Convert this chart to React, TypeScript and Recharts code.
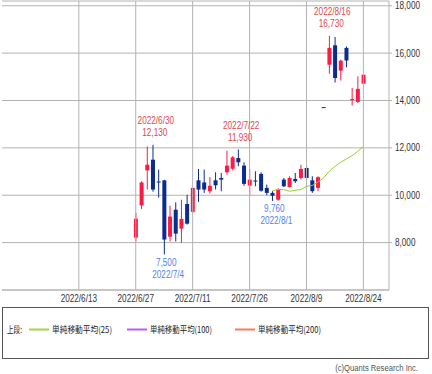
import React from 'react';
import {
  ComposedChart,
  Bar,
  Line,
  XAxis,
  YAxis,
  CartesianGrid,
  ReferenceLine,
  ReferenceDot,
} from 'recharts';

// ---- categories (trading days on the axis) ----
const dates = [
  '2022/5/25', '2022/5/26', '2022/5/27', '2022/5/30', '2022/5/31',
  '2022/6/1', '2022/6/2', '2022/6/3', '2022/6/6', '2022/6/7', '2022/6/8', '2022/6/9', '2022/6/10',
  '2022/6/13', '2022/6/14', '2022/6/15', '2022/6/16', '2022/6/17',
  '2022/6/20', '2022/6/21', '2022/6/22', '2022/6/23', '2022/6/24',
  '2022/6/27', '2022/6/28', '2022/6/29', '2022/6/30', '2022/7/1',
  '2022/7/4', '2022/7/5', '2022/7/6', '2022/7/7', '2022/7/8',
  '2022/7/11', '2022/7/12', '2022/7/13', '2022/7/14', '2022/7/15',
  '2022/7/19', '2022/7/20', '2022/7/21', '2022/7/22',
  '2022/7/25', '2022/7/26', '2022/7/27', '2022/7/28', '2022/7/29',
  '2022/8/1', '2022/8/2', '2022/8/3', '2022/8/4', '2022/8/5',
  '2022/8/8', '2022/8/9', '2022/8/10', '2022/8/12',
  '2022/8/15', '2022/8/16', '2022/8/17', '2022/8/18', '2022/8/19',
  '2022/8/22', '2022/8/23', '2022/8/24', '2022/8/25', '2022/8/26',
  '2022/8/29', '2022/8/30',
];

// ---- candles (2022/6/27 .. 2022/8/24) ----
const candleStart = '2022/6/27';
const opens = [8210, 9570, 11050, 11500, 10560, 10630, 8250, 9390, 8590, 9630, 9300, 10630, 10540, 10170, 10630, 10730, 10970, 11120, 11570, 11250, 10410, 10600, 10900, 10310, 10100, 9810, 10660, 10350, 10690, 10730, 11150, 10630, 10310, 13700, 15510, 16330, 15260, 16220, 14000, 13940, 14710];
const highs = [9270, 10590, 12060, 12130, 11080, 10650, 9560, 9700, 9810, 10020, 10310, 11110, 11080, 10770, 10970, 10940, 11880, 11650, 11930, 11390, 11110, 11010, 10970, 10450, 10170, 10290, 10730, 10800, 10940, 11290, 11250, 10800, 10800, 13700, 16730, 16680, 15720, 16280, 14530, 15020, 15090];
const lows = [8050, 9420, 10240, 10150, 9900, 7500, 8050, 8050, 7990, 8760, 9250, 9720, 10100, 10070, 10240, 10170, 10870, 11050, 11220, 10400, 9980, 10380, 10150, 10000, 9760, 9770, 10350, 10330, 10520, 10660, 10660, 10100, 10170, 13700, 15130, 14760, 14840, 15400, 13790, 13900, 14700];
const closes = [9010, 10540, 11290, 10240, 10530, 8130, 9100, 8380, 9000, 8800, 10310, 10240, 10240, 10400, 10420, 10660, 11250, 11600, 11390, 10480, 10660, 10570, 10190, 10100, 9980, 10240, 10380, 10730, 10590, 11110, 10730, 10170, 10760, 13700, 16220, 14950, 15680, 15690, 14040, 14490, 15090];

// ---- 25-day simple moving average (2022/8/1 .. 2022/8/24) ----
const smaStart = '2022/8/1';
const sma25 = [10190, 10240, 10240, 10170, 10210, 10240, 10380, 10410, 10550, 10730, 11010, 11220, 11390, 11530, 11670, 11850, 12060];

// ---- axis ticks ----
const xTickLabels = ['2022/6/13', '2022/6/27', '2022/7/11', '2022/7/26', '2022/8/9', '2022/8/24'];
const yTicks = [8000, 10000, 12000, 14000, 16000, 18000];
const yDomain = [6000, 18200];

// ---- annotated highs / lows ----
const highMarks = [
  { date: '2022/6/30', value: 12130 },
  { date: '2022/7/22', value: 11930 },
  { date: '2022/8/16', value: 16730 },
];
const lowMarks = [
  { date: '2022/7/4', value: 7500 },
  { date: '2022/8/1', value: 9760 },
];

// ---- legend ----
const legendItems = [
  { name: '単純移動平均(25)', color: '#a6d447' },
  { name: '単純移動平均(100)', color: '#bd5cf2' },
  { name: '単純移動平均(200)', color: '#f77c5c' },
];

const RED = '#ff1a46';
const BLUE = '#0b2c8e';
const GRID = '#b3b3b3';
const SANS = "'Liberation Sans', Arial, sans-serif";
const JP = "'Noto Sans CJK JP', 'Noto Sans', sans-serif";
const SQUEEZE = 0.82;

const fmt = (v: number) => String(v).replace(/\B(?=(\d{3})+(?!\d))/g, ',');

const cIdx = dates.indexOf(candleStart);
const sIdx = dates.indexOf(smaStart);

const data = dates.map((d, i) => {
  const k = i - cIdx;
  const s = i - sIdx;
  const has = k >= 0 && k < opens.length;
  return {
    date: d,
    open: has ? opens[k] : null,
    high: has ? highs[k] : null,
    low: has ? lows[k] : null,
    close: has ? closes[k] : null,
    range: has ? [lows[k], highs[k]] : null,
    sma25: s >= 0 && s < sma25.length ? sma25[s] : null,
    sma100: null,
    sma200: null,
  };
});

// condensed text (narrow face look-alike)
const NText = ({ x, y, anchor = 'middle', fill = '#333', size = 10, children }: any) => (
  <text
    transform={`translate(${x},${y}) scale(${SQUEEZE},1)`}
    x={0}
    y={0}
    textAnchor={anchor}
    fontSize={size}
    fontFamily={SANS}
    fill={fill}
  >
    {children}
  </text>
);

const Candle = (props: any) => {
  const { x, y, width, height, payload } = props;
  if (!payload || payload.open == null || x == null || y == null) return null;
  const { open, close, high, low } = payload;
  const h = height || 0;
  const top = Math.min(y, y + h);
  const bottom = Math.max(y, y + h);
  const span = high - low;
  const toY = (v: number) => (span === 0 ? top : bottom - ((v - low) / span) * (bottom - top));
  const up = close > open;
  const color = up ? RED : BLUE;
  const cx = x + width / 2;
  const bTop = toY(Math.max(open, close));
  const bBot = toY(Math.min(open, close));
  return (
    <g>
      {bottom - top > 0 && (
        <line x1={cx} x2={cx} y1={top} y2={bottom} stroke={color} strokeWidth={1} />
      )}
      <rect x={x} y={bTop - (bBot - bTop < 1 ? 0.5 : 0)} width={width} height={Math.max(bBot - bTop, 1)} fill={color} />
    </g>
  );
};

const XTick = (props: any) => {
  const { x, y, payload } = props;
  if (!xTickLabels.includes(payload.value)) return <g />;
  return <NText x={x} y={y + 11.5}>{payload.value}</NText>;
};

const YTick = (props: any) => {
  const { x, y, payload } = props;
  return (
    <NText x={x} y={y + 3.5} anchor="start">
      {fmt(payload.value)}
    </NText>
  );
};

const makeLabel = (date: string, value: number, kind: 'high' | 'low') => (p: any) => {
  const vb = p.viewBox || {};
  const cx = (vb.x ?? 0) + (vb.width ?? 0) / 2 + 3;
  const cy = (vb.y ?? 0) + (vb.height ?? 0) / 2;
  const color = kind === 'high' ? '#e0474c' : '#5284ea';
  if (kind === 'high') {
    return (
      <g>
        <NText x={cx} y={cy - 20.5} fill={color}>{date}</NText>
        <NText x={cx - 1} y={cy - 8.5} fill={color}>{fmt(value)}</NText>
      </g>
    );
  }
  return (
    <g>
      <NText x={cx - 1} y={cy + 11.5} fill={color}>{fmt(value)}</NText>
      <NText x={cx + 1} y={cy + 23.5} fill={color}>{date}</NText>
    </g>
  );
};

export default function App() {
  return (
    <div style={{ position: 'absolute', left: 0, top: 0, width: 432, height: 374, background: '#fff' }}>
      <ComposedChart
        width={432}
        height={374}
        data={data}
        margin={{ top: 1, right: 0, left: 2, bottom: 64 }}
      >
        <CartesianGrid vertical={false} stroke={GRID} strokeWidth={1} />
        <XAxis
          dataKey="date"
          interval={0}
          tick={<XTick />}
          tickLine={false}
          tickSize={0}
          tickMargin={0}
          height={20}
          axisLine={{ stroke: GRID }}
        />
        <XAxis
          xAxisId="top"
          dataKey="date"
          orientation="top"
          height={0}
          tick={false}
          tickLine={false}
          axisLine={{ stroke: GRID }}
        />
        <YAxis
          orientation="right"
          width={43}
          domain={yDomain}
          ticks={yTicks}
          interval={0}
          allowDataOverflow
          tickSize={3}
          tickMargin={3}
          tickLine={{ stroke: GRID }}
          axisLine={{ stroke: GRID }}
          tick={<YTick />}
        />
        <YAxis
          yAxisId="left"
          orientation="left"
          width={0}
          domain={yDomain}
          tick={false}
          tickLine={false}
          axisLine={{ stroke: GRID }}
        />
        {xTickLabels.map((d) => (
          <ReferenceLine key={d} x={d} stroke={GRID} strokeWidth={1} />
        ))}
        <Bar dataKey="range" barSize={4} shape={<Candle />} isAnimationActive={false} />
        <Line
          dataKey="sma25"
          stroke="#9acd32"
          strokeWidth={1}
          dot={false}
          activeDot={false}
          isAnimationActive={false}
        />
        <Line dataKey="sma100" stroke="#bd5cf2" dot={false} isAnimationActive={false} />
        <Line dataKey="sma200" stroke="#f77c5c" dot={false} isAnimationActive={false} />
        {highMarks.map((m) => (
          <ReferenceDot
            key={m.date}
            x={m.date}
            y={m.value}
            r={0}
            fill="none"
            stroke="none"
            label={{ content: makeLabel(m.date, m.value, 'high') }}
          />
        ))}
        {lowMarks.map((m) => (
          <ReferenceDot
            key={m.date}
            x={m.date}
            y={m.value}
            r={0}
            fill="none"
            stroke="none"
            label={{ content: makeLabel(m.date, m.value, 'low') }}
          />
        ))}
      </ComposedChart>
      <svg
        width={432}
        height={374}
        style={{ position: 'absolute', left: 0, top: 0, pointerEvents: 'none' }}
      >
        <rect x={2.5} y={307.5} width={426} height={51} fill="none" stroke="#555" strokeWidth={1} />
        <text x={7} y={332.5} fontSize={9} fontFamily={JP} fill="#222" textLength={15} lengthAdjust="spacingAndGlyphs">
          上段:
        </text>
        {legendItems.map((it, i) => {
          const lx = [29, 127, 235][i];
          const tw = [60, 62, 63][i];
          return (
            <g key={it.name}>
              <line x1={lx} x2={lx + 20} y1={329.5} y2={329.5} stroke={it.color} strokeWidth={2} />
              <text
                x={lx + 23}
                y={332.5}
                fontSize={9}
                fontFamily={JP}
                fill="#222"
                textLength={tw}
                lengthAdjust="spacingAndGlyphs"
              >
                {it.name}
              </text>
            </g>
          );
        })}
        <text
          transform="translate(418,371) scale(0.85,1)"
          x={0}
          y={0}
          textAnchor="end"
          fontSize={9}
          fontFamily={SANS}
          fill="#555"
        >
          (c)Quants Research Inc.
        </text>
      </svg>
    </div>
  );
}
